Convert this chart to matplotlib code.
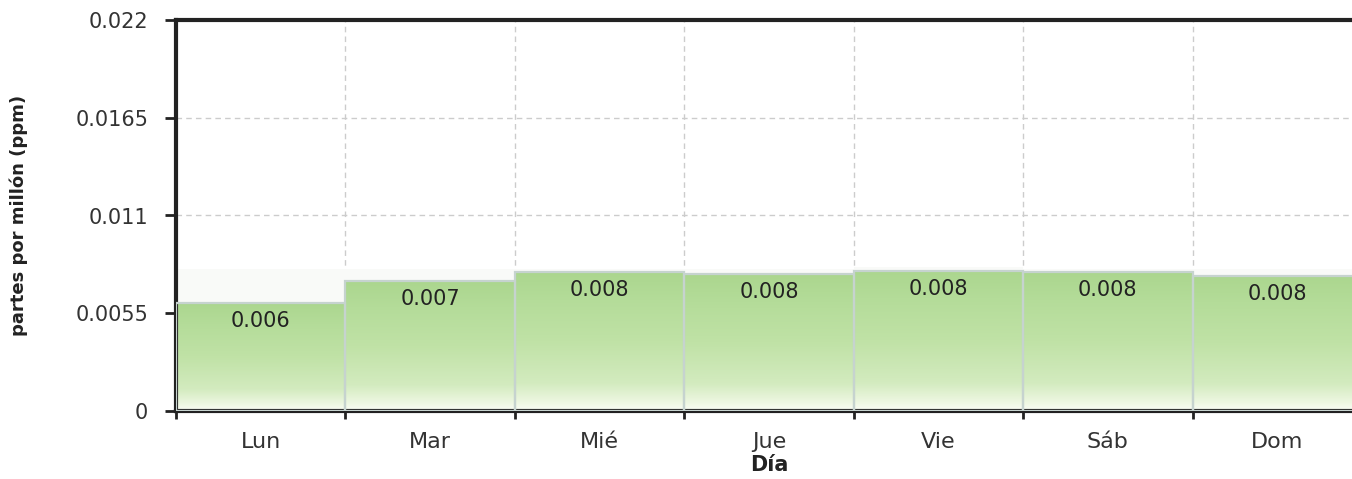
import numpy as np
import matplotlib
matplotlib.use("Agg")
import matplotlib.pyplot as plt
from matplotlib.colors import LinearSegmentedColormap

days = ["Lun", "Mar", "Mié", "Jue", "Vie", "Sáb", "Dom"]
values = [0.0061, 0.0073, 0.0078, 0.0077, 0.0079, 0.0078, 0.0076]
labels = ["0.006", "0.007", "0.008", "0.008", "0.008", "0.008", "0.008"]
yticks = [0, 0.0055, 0.011, 0.0165, 0.022]
ytick_labels = ["0", "0.0055", "0.011", "0.0165", "0.022"]

plt.rcParams['font.family'] = ['DejaVu Sans']

fig = plt.figure(figsize=(13.52, 4.79), dpi=100)
ax = fig.add_axes([176/1352, 68/479, (1362-176)/1352, (411-20)/479])

n = len(days)
x = np.arange(n)

cmap = LinearSegmentedColormap.from_list(
    "g", [(0.0, "#fbfdf6"), (0.06, "#eef7e2"), (0.2, "#d3ebbf"),
          (0.5, "#c0e2a6"), (0.8, "#b4dc99"), (1.0, "#abd68e")])
grad = np.linspace(0, 1, 256).reshape(-1, 1)
for xi, v in zip(x, values):
    ax.fill_between([xi - 0.5, xi + 0.5], v, max(v + 0.0002, 0.0080),
                    color="#f9faf8", zorder=1, linewidth=0)
    ax.imshow(grad, cmap=cmap, origin="lower", aspect="auto",
              extent=[xi - 0.5, xi + 0.5, 0, v], zorder=2, interpolation="bicubic")
ax.bar(x, values, width=1.0, facecolor="none", edgecolor="#c6d3cf",
       linewidth=1.6, zorder=3)
ax.set_xlim(-0.5, n - 0.5)
ax.set_ylim(0, 0.022)

for xi, v, lab in zip(x, values, labels):
    ax.text(xi, v - 0.00045, lab, ha="center", va="top", fontsize=15,
            color="#222222", zorder=4)

ax.set_yticks(yticks)
ax.set_yticklabels(ytick_labels, fontsize=15, color="#333333")
ax.set_xticks(np.arange(-0.5, n, 1.0))
ax.set_xticklabels([])
ax.set_xticks(x, minor=True)
ax.set_xticklabels(days, minor=True, fontsize=16, color="#333333")
ax.tick_params(axis="x", which="minor", length=0, pad=15)
ax.tick_params(axis="x", which="major", length=6, width=2, color="#222222")
ax.tick_params(axis="y", which="major", length=8, width=2, color="#222222", pad=12)
ax.grid(True, which="major", linestyle=(0, (4, 3)), color="#cccccc", linewidth=1, zorder=0)
ax.set_axisbelow(True)

for s in ["left", "bottom", "top"]:
    ax.spines[s].set_linewidth(3)
    ax.spines[s].set_color("#222222")
ax.spines["right"].set_visible(False)

ax.set_xlabel("Día", fontsize=15, fontweight="bold", color="#222222", labelpad=2)
ax.set_ylabel("partes por millón (ppm)", fontsize=13, fontweight="bold",
              color="#222222", labelpad=34)

fig.savefig("out.png", dpi=100)
